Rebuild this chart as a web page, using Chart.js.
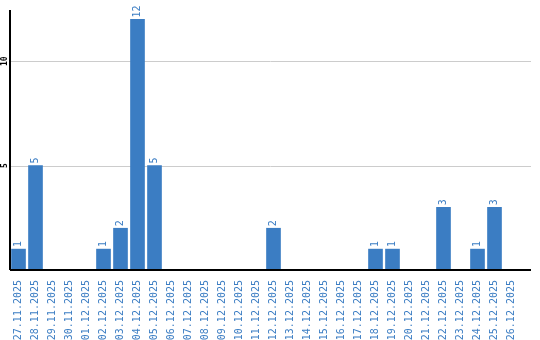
<!DOCTYPE html>
<html>
<head>
<meta charset="utf-8">
<script src="https://cdn.jsdelivr.net/npm/chart.js@4/dist/chart.umd.min.js"></script>
<style>
html,body{margin:0;padding:0;background:#fff;}
#wrap{width:540px;height:340px;position:relative;}
</style>
</head>
<body>
<div id="wrap"><canvas id="c" width="540" height="340"></canvas></div>
<script>
const categories = ["27.11.2025","28.11.2025","29.11.2025","30.11.2025","01.12.2025","02.12.2025","03.12.2025","04.12.2025","05.12.2025","06.12.2025","07.12.2025","08.12.2025","09.12.2025","10.12.2025","11.12.2025","12.12.2025","13.12.2025","14.12.2025","15.12.2025","16.12.2025","17.12.2025","18.12.2025","19.12.2025","20.12.2025","21.12.2025","22.12.2025","23.12.2025","24.12.2025","25.12.2025","26.12.2025"];
const values = [1,5,0,0,0,1,2,12,5,0,0,0,0,0,0,2,0,0,0,0,0,1,1,0,0,3,0,1,3,0];
const yTicks = [5,10];
const yMax = 12.45;

const BLUE = '#3b7dc3';
const MONO = '"DejaVu Sans Mono", monospace';

const extras = {
  id: 'extras',
  beforeDatasetsDraw(chart) {
    const ctx = chart.ctx, y = chart.scales.y, a = chart.chartArea;
    const rightEnd = 531;
    ctx.save();
    ctx.strokeStyle = '#cccccc';
    ctx.lineWidth = 1;
    yTicks.forEach(v => {
      const py = Math.round(y.getPixelForValue(v)) + 0.5;
      ctx.beginPath(); ctx.moveTo(a.left, py); ctx.lineTo(rightEnd, py); ctx.stroke();
    });
    ctx.restore();
  },
  afterDatasetsDraw(chart) {
    const ctx = chart.ctx, y = chart.scales.y, a = chart.chartArea;
    const rightEnd = 531;
    ctx.save();
    ctx.strokeStyle = '#000';
    ctx.lineWidth = 2;
    const y0 = Math.round(y.getPixelForValue(0));
    ctx.beginPath(); ctx.moveTo(a.left, y0); ctx.lineTo(rightEnd, y0); ctx.stroke();
    ctx.beginPath(); ctx.moveTo(a.left, a.top); ctx.lineTo(a.left, y0); ctx.stroke();
    // y tick labels
    ctx.fillStyle = '#000';
    ctx.font = 'bold 8px ' + MONO;
    ctx.textAlign = 'center';
    ctx.textBaseline = 'middle';
    yTicks.forEach(v => {
      const py = y.getPixelForValue(v);
      ctx.save(); ctx.translate(5, py); ctx.rotate(-Math.PI/2); ctx.fillText(String(v), 0, 0); ctx.restore();
    });
    // data labels
    const meta = chart.getDatasetMeta(0);
    ctx.fillStyle = BLUE;
    ctx.font = '10px ' + MONO;
    ctx.textAlign = 'left';
    ctx.textBaseline = 'middle';
    meta.data.forEach((bar, i) => {
      const v = values[i];
      if (!v) return;
      ctx.save(); ctx.translate(bar.x, bar.y - 2); ctx.rotate(-Math.PI/2); ctx.fillText(String(v), 0, 0); ctx.restore();
    });
    ctx.restore();
  }
};

new Chart(document.getElementById('c'), {
  type: 'bar',
  data: {
    labels: categories,
    datasets: [{
      data: values,
      backgroundColor: BLUE,
      borderWidth: 0,
      barThickness: 14
    }]
  },
  options: {
    responsive: false,
    animation: false,
    devicePixelRatio: 1,
    layout: { padding: { top: 10, right: 20, left: 0, bottom: 0 } },
    plugins: { legend: { display: false }, tooltip: { enabled: false } },
    scales: {
      x: {
        grid: { display: false },
        border: { display: false },
        ticks: {
          autoSkip: false,
          minRotation: 90,
          maxRotation: 90,
          padding: 2,
          color: BLUE,
          font: { family: MONO, size: 10 }
        },
        afterFit(s) { s.height = 70; }
      },
      y: {
        min: 0,
        max: yMax,
        grid: { display: false },
        border: { display: false },
        ticks: { display: false },
        afterFit(s) { s.width = 10; }
      }
    }
  },
  plugins: [extras]
});
</script>
</body>
</html>
